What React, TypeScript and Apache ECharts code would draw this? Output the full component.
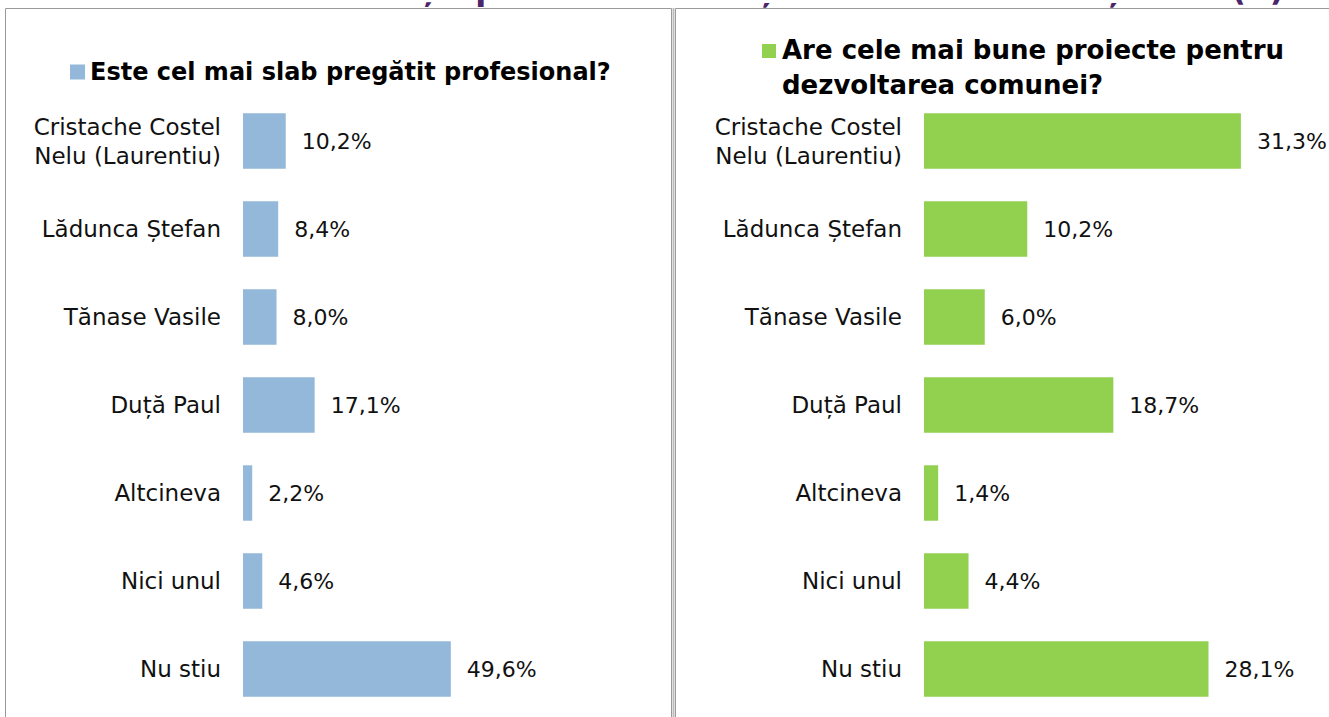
import React, { useEffect, useRef } from "react";
import * as echarts from "echarts";

const categories = [
  "Cristache Costel\nNelu (Laurentiu)",
  "Lădunca Ștefan",
  "Tănase Vasile",
  "Duță Paul",
  "Altcineva",
  "Nici unul",
  "Nu stiu",
];
const weakValues = [10.2, 8.4, 8.0, 17.1, 2.2, 4.6, 49.6];
const projectValues = [31.3, 10.2, 6.0, 18.7, 1.4, 4.4, 28.1];
const weakName = "Este cel mai slab pregătit profesional?";
const projectName = "Are cele mai bune proiecte pentru\ndezvoltarea comunei?";
const pageTitle = "Care din acești posibili candidați la Primărie credeți că... (II)";

const FONT = "'DejaVu Sans', sans-serif";

export default function App() {
  const ref = useRef<HTMLDivElement>(null);
  useEffect(() => {
    if (!ref.current) return;
    const chart = echarts.init(ref.current, undefined, { renderer: "svg" });
    const fmt = (p: any) => p.value.toFixed(1).replace(".", ",") + "%";
    const catAxis = (gi: number) => ({
      type: "category",
      gridIndex: gi,
      data: categories,
      inverse: true,
      axisLine: { show: false },
      axisTick: { show: false },
      axisLabel: {
        color: "#111",
        fontSize: 23,
        fontFamily: FONT,
        margin: 22,
        lineHeight: 29,
        align: "right",
      },
    });
    const valAxis = (gi: number, max: number) => ({
      type: "value",
      gridIndex: gi,
      min: 0,
      max,
      show: false,
      splitLine: { show: false },
    });
    const label = {
      show: true,
      position: "right",
      distance: 16,
      color: "#111",
      fontSize: 22,
      fontFamily: FONT,
      formatter: fmt,
    };
    const legendText = {
      fontWeight: "bold",
      color: "#000",
      fontFamily: FONT,
    };
    chart.setOption({
      animation: false,
      backgroundColor: "#fff",
      graphic: [
        {
          type: "text",
          x: 195,
          y: -27,
          style: {
            text: pageTitle,
            fill: "#4b2568",
            font: "bold 32px 'DejaVu Sans', sans-serif",
          },
          z: 0,
        },
        {
          type: "rect",
          shape: { x: 5.5, y: 8.5, width: 666, height: 720 },
          style: { fill: "none", stroke: "#9a9a9a", lineWidth: 1 },
          z: 1,
        },
        {
          type: "rect",
          shape: { x: 675.5, y: 8.5, width: 700, height: 720 },
          style: { fill: "none", stroke: "#9a9a9a", lineWidth: 1 },
          z: 1,
        },
        {
          type: "line",
          shape: { x1: 673.5, y1: 8, x2: 673.5, y2: 717 },
          style: { stroke: "#bdbdbd", lineWidth: 2 },
          z: 1,
        },
        {
          type: "rect",
          shape: { x: 762, y: 44, width: 14, height: 14 },
          style: { fill: "#92d050" },
          z: 2,
        },
      ],
      legend: [
        {
          data: [weakName],
          left: 65,
          top: 55,
          itemWidth: 15,
          itemHeight: 15,
          itemGap: 6,
          icon: "rect",
          textStyle: { ...legendText, fontSize: 24 },
        },
        {
          data: [projectName],
          left: 771,
          top: 27,
          itemWidth: 1,
          itemHeight: 1,
          icon: "rect",
          itemStyle: { opacity: 0 },
          textStyle: { ...legendText, fontSize: 26, lineHeight: 35 },
        },
      ],
      grid: [
        { left: 243, width: 419, top: 97, height: 616 },
        { left: 924, width: 405, top: 97, height: 616 },
      ],
      xAxis: [valAxis(0, 100), valAxis(1, 40)],
      yAxis: [catAxis(0), catAxis(1)],
      series: [
        {
          name: weakName,
          type: "bar",
          xAxisIndex: 0,
          yAxisIndex: 0,
          data: weakValues,
          barCategoryGap: "37%",
          itemStyle: { color: "#93b8d9" },
          label,
        },
        {
          name: projectName,
          type: "bar",
          xAxisIndex: 1,
          yAxisIndex: 1,
          data: projectValues,
          barCategoryGap: "37%",
          itemStyle: { color: "#92d050" },
          label,
        },
      ],
    });
    return () => chart.dispose();
  }, []);
  return (
    <div
      ref={ref}
      style={{ position: "fixed", left: 0, top: 0, width: 1329, height: 717 }}
    />
  );
}
